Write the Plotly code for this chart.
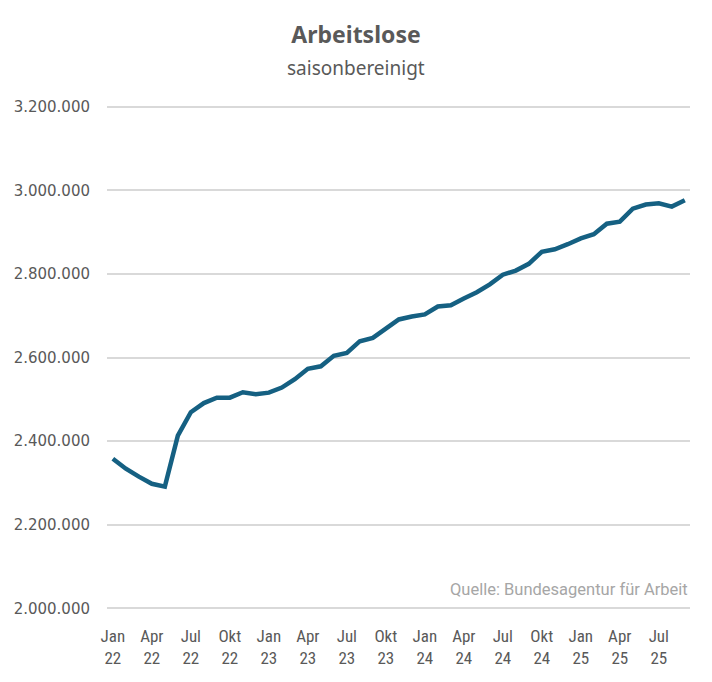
import plotly.graph_objects as go

months = ["Jan", "Feb", "Mär", "Apr", "Mai", "Jun", "Jul", "Aug", "Sep", "Okt", "Nov", "Dez"]
years = ["22", "23", "24", "25"]
categories = [f"{m} {y}" for y in years for m in months][:45]

values = [
    2358000, 2334000, 2315000, 2298000, 2291000, 2413000, 2469000, 2491000, 2504000, 2504000, 2517000, 2512000,
    2516000, 2528000, 2548000, 2573000, 2579000, 2604000, 2611000, 2639000, 2647000, 2668000, 2691000, 2698000,
    2703000, 2722000, 2725000, 2741000, 2756000, 2775000, 2798000, 2808000, 2824000, 2853000, 2859000, 2871000,
    2885000, 2895000, 2920000, 2925000, 2956000, 2966000, 2969000, 2961000, 2976000,
]

tick_idx = list(range(0, 45, 3))
tick_labels = [categories[i].replace(" ", "<br>") for i in tick_idx]
y_ticks = [2000000, 2200000, 2400000, 2600000, 2800000, 3000000, 3200000]
y_labels = [f"{v:,}".replace(",", ".") for v in y_ticks]

x = list(range(len(values)))

# page body has an 8px margin; figure sized so the plot area lands where the reference has it
W, H = 704, 674
ML, MR, MT, MB = 99, 22, 97, 72
plot_w = W - ML - MR
plot_h = H - MT - MB

fig = go.Figure()
fig.add_trace(go.Scatter(
    x=x, y=values, mode="lines",
    line=dict(color="#156082", width=4.5),
    hoverinfo="skip",
))

fig.update_layout(
    width=W, height=H,
    margin=dict(l=ML, r=MR, t=MT, b=MB, autoexpand=False),
    paper_bgcolor="white", plot_bgcolor="white",
    showlegend=False,
    title=dict(
        text="<b>Arbeitslose</b>",
        x=(356 - 8) / W, xanchor="center", y=1 - 27 / H, yanchor="middle",
        font=dict(family="Noto Sans, Open Sans, sans-serif", size=23, color="#595959"),
    ),
    annotations=[
        dict(text="saisonbereinigt", xref="paper", yref="paper",
             x=(356 - 8 - ML) / plot_w, y=(plot_h + MT - 60) / plot_h,
             xanchor="center", yanchor="middle", showarrow=False,
             font=dict(family="Noto Sans, Open Sans, sans-serif", size=19, color="#595959")),
        dict(text="Quelle: Bundesagentur für Arbeit", xref="paper", yref="paper",
             x=1, y=21 / plot_h, xanchor="right", yanchor="middle", showarrow=False,
             font=dict(family="Roboto, Liberation Sans, sans-serif", size=16.5, color="#a6a6a6")),
    ],
)

fig.update_xaxes(
    range=[-0.45, 44.4],
    tickmode="array", tickvals=tick_idx, ticktext=tick_labels,
    showgrid=False, zeroline=False, showline=False, ticks="",
    ticklabelstandoff=14, automargin=False,
    tickfont=dict(family="Roboto Condensed, Liberation Sans Narrow, Liberation Sans, sans-serif", size=17, color="#595959"),
    fixedrange=True,
)
fig.update_yaxes(
    range=[1996000, 3204000],
    tickmode="array", tickvals=y_ticks, ticktext=y_labels,
    showgrid=True, gridcolor="#d9d9d9", gridwidth=1.5,
    zeroline=False, showline=False, ticks="", ticklabelstandoff=16, automargin=False,
    tickfont=dict(family="DejaVu Sans, Liberation Sans, Arial, sans-serif", size=15, color="#595959"),
    fixedrange=True,
)

fig.write_html("out.html")
